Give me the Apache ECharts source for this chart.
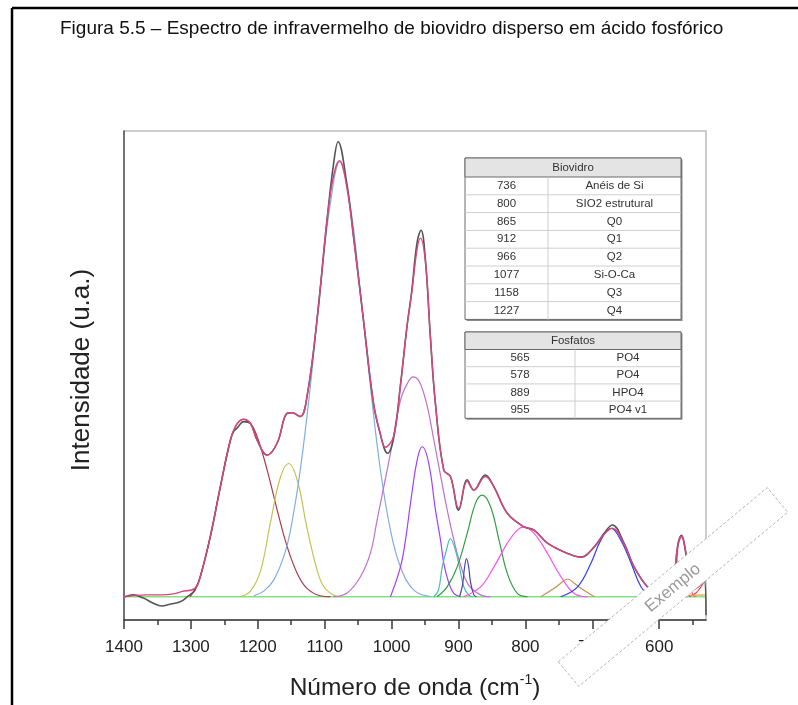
<!DOCTYPE html>
<html><head><meta charset="utf-8">
<script src="https://cdn.jsdelivr.net/npm/echarts@6/dist/echarts.min.js"></script>
<style>html,body{margin:0;padding:0;background:#fff;}#c{width:798px;height:705px;}</style>
</head><body><div id="c"></div>
<script>
const FONT = 'Liberation Sans, Arial, sans-serif';
const titleText = 'Figura 5.5 – Espectro de infravermelho de biovidro disperso em ácido fosfórico';
const yAxisTitle = 'Intensidade (u.a.)';
const xMajorTicks = [600, 700, 800, 900, 1000, 1100, 1200, 1300, 1400];
const xMinorTicks = [550, 650, 750, 850, 950, 1050, 1150, 1250, 1350];

// measured spectrum (dark line)
const measured = [[1398.5,0],[1386,0.004],[1371,-0.003],[1356,-0.014],[1344,-0.020],[1331,-0.016],[1316,-0.011],[1306,-0.001],[1294,0.014],[1286,0.043],[1271,0.129],[1256,0.236],[1241,0.336],[1236,0.355],[1231,0.362],[1221,0.376],[1211,0.372],[1201,0.336],[1186,0.304],[1171,0.330],[1156,0.394],[1149,0.395],[1136.5,0.387],[1126.5,0.429],[1111.5,0.594],[1096.5,0.809],[1086.6,0.931],[1080,0.977],[1067,0.888],[1057,0.775],[1042,0.594],[1027,0.415],[1017,0.350],[1006,0.308],[997,0.340],[987,0.451],[977,0.580],[970,0.655],[962,0.760],[956,0.787],[949.5,0.725],[942,0.558],[934.5,0.415],[922,0.272],[912,0.258],[899.6,0.186],[887,0.251],[877,0.229],[860,0.261],[847,0.236],[827,0.179],[802,0.150],[787,0.143],[767,0.115],[737,0.093],[717,0.085],[697,0.107],[682.4,0.136],[670,0.154],[652.5,0.115],[637.5,0.064],[617.4,0.021],[597.5,0.002],[582.5,0.010],[571.6,0.115],[566.5,0.132],[561.6,0.107],[555.6,0.047],[549.6,0.016],[542,0.021],[533,0.036],[530,-0.04]];
// cumulative fit (pink line)
const fit = [[1400,0],[1366,0.004],[1346,0.004],[1326,0.006],[1314,0.011],[1294,0.018],[1286,0.043],[1271,0.129],[1256,0.236],[1241,0.336],[1231,0.371],[1221,0.381],[1211,0.372],[1201,0.336],[1186,0.304],[1171,0.330],[1156,0.394],[1149,0.395],[1136.5,0.387],[1126.5,0.429],[1111.5,0.594],[1096.5,0.809],[1086.6,0.905],[1078,0.936],[1067,0.880],[1057,0.773],[1042,0.594],[1027,0.415],[1017,0.351],[1009.5,0.321],[997,0.344],[987,0.451],[977,0.580],[970,0.651],[962,0.745],[957,0.770],[949.5,0.720],[942,0.558],[934.5,0.415],[922,0.272],[912,0.258],[899.6,0.190],[887,0.248],[877,0.229],[860,0.258],[847,0.236],[827,0.179],[802,0.150],[787,0.143],[767,0.115],[737,0.093],[717,0.085],[697,0.107],[682.4,0.134],[670,0.147],[652.5,0.113],[637.5,0.064],[617.4,0.021],[597.5,0.002],[582.5,0.010],[571.6,0.115],[566.5,0.130],[561.6,0.107],[555.6,0.047],[549.6,0.016],[542,0.021],[530,0.040]];
const baseline = [[1400,0],[530,0]];

// fitted components
const peakQ4 = [[1301,0],[1294,0.016],[1286,0.043],[1271,0.129],[1256,0.236],[1241,0.336],[1231,0.371],[1221,0.381],[1211,0.372],[1201,0.344],[1186,0.272],[1171,0.186],[1156,0.107],[1141,0.050],[1126.5,0.018],[1106.5,0.002],[1091.6,0]];
const peakQ3 = [[1226,0],[1211,0.012],[1196,0.055],[1181,0.160],[1166.5,0.255],[1154,0.286],[1141,0.250],[1126.5,0.148],[1111.5,0.058],[1101.5,0.022],[1086.5,0.003],[1076,0]];
const peakSiOCa = [[1206,0.002],[1191,0.012],[1176.5,0.035],[1161.5,0.085],[1151.5,0.140],[1136.5,0.272],[1121.5,0.451],[1106.5,0.666],[1091.5,0.845],[1077.6,0.934],[1061.5,0.837],[1046.5,0.651],[1031.6,0.451],[1016.7,0.272],[1001.7,0.143],[986.7,0.064],[966.7,0.014],[941.8,0]];
const peakQ2 = [[1086.6,0],[1066.7,0.008],[1046.5,0.043],[1031.6,0.094],[1021.6,0.165],[1011.7,0.236],[1001.7,0.308],[986.7,0.422],[976.7,0.457],[967.7,0.472],[959.8,0.465],[951.9,0.437],[944.8,0.397],[936.8,0.336],[926.9,0.261],[916.8,0.186],[906.9,0.122],[896.9,0.068],[884.9,0.025],[867,0.004],[852,0]];
const peakPO4v1 = [[1001.7,0],[986.7,0.064],[979.2,0.122],[971.7,0.201],[961.7,0.294],[954.2,0.322],[944.4,0.286],[934.4,0.186],[926.9,0.122],[922,0.072],[915,0.032],[907,0.007],[897,0]];
const peakQ1 = [[937,0],[930,0.014],[924.3,0.064],[918,0.100],[912,0.125],[907,0.111],[902,0.086],[897,0.053],[892,0.021],[885,0.004],[879,0]];
const peakHPO4 = [[898.4,0],[894,0.025],[891,0.062],[888,0.082],[885,0.066],[882,0.032],[877,0.004],[873,0]];
const peakQ0 = [[932,0],[917,0.021],[902,0.064],[887,0.136],[874.5,0.201],[864.5,0.218],[852,0.193],[839.5,0.122],[827,0.050],[812,0.007],[797,0]];
const peakSiO2 = [[892.5,0],[867,0.021],[847,0.064],[827,0.115],[812,0.143],[802,0.150],[787,0.136],[767,0.093],[747,0.043],[727,0.007],[707,0]];
const peakAneis = [[777,0],[757,0.018],[747,0.029],[737,0.038],[727,0.029],[717,0.018],[697,0]];
const peak675 = [[747,0],[722,0.021],[702,0.072],[687,0.122],[672,0.147],[657.5,0.122],[642,0.072],[627,0.021],[612,0]];
const peakPO4narrow = [[582.5,0],[575,0.040],[571.6,0.110],[566.5,0.128],[561.6,0.104],[555.6,0.040],[549.6,0.004],[545,0]];
const peakRed = [[555.6,0],[545,0.008],[537.6,0.021],[530,0.040]];
const peakOrange = [[560,0.003],[530,0.004]];

// tables
const biovidroTitle = 'Biovidro';
const biovidroNumbers = ['736','800','865','912','966','1077','1158','1227'];
const biovidroLabels = ['Anéis de Si','SIO2 estrutural','Q0','Q1','Q2','Si-O-Ca','Q3','Q4'];
const fosfatosTitle = 'Fosfatos';
const fosfatosNumbers = ['565','578','889','955'];
const fosfatosLabels = ['PO4','PO4','HPO4','PO4 v1'];
const watermarkText = 'Exemplo';

function line(name, data, color, width, z) {
  return {name, type:'line', data, smooth:0.4, symbol:'none', silent:true,
    lineStyle:{color, width}, z: z || 2};
}

function buildTable(left, top, width, headerH, rowH, divX, title, nums, labels) {
  const els = [];
  const h = headerH + rowH * nums.length;
  const txt = (x, y, t) => ({type:'text', x, y, z:55,
    style:{text:t, x:0, y:0, align:'center', verticalAlign:'middle', font:'11.5px ' + FONT, fill:'#333'}});
  els.push({type:'rect', z:50, shape:{x:left+1.5, y:top+1.5, width, height:h}, style:{fill:'#8a8a8a'}});
  els.push({type:'rect', z:51, shape:{x:left, y:top, width, height:h}, style:{fill:'#fff', stroke:'#6a6a6a', lineWidth:1}});
  els.push({type:'rect', z:52, shape:{x:left, y:top, width, height:headerH}, style:{fill:'#e4e4e4', stroke:'#6a6a6a', lineWidth:1}});
  els.push(txt(left + width/2, top + headerH/2, title));
  const c1 = (left + divX) / 2, c2 = (divX + left + width) / 2;
  els.push({type:'line', z:53, shape:{x1:divX, y1:top+headerH, x2:divX, y2:top+h}, style:{stroke:'#cfcfcf', lineWidth:1}});
  for (let i = 0; i < nums.length; i++) {
    const y0 = top + headerH + rowH * i;
    if (i > 0) els.push({type:'line', z:53, shape:{x1:left, y1:y0, x2:left+width, y2:y0}, style:{stroke:'#cfcfcf', lineWidth:1}});
    els.push(txt(c1, y0 + rowH/2, nums[i]));
    els.push(txt(c2, y0 + rowH/2, labels[i]));
  }
  return els;
}

const graphics = [
  {type:'line', z:60, shape:{x1:12, y1:8, x2:798, y2:8}, style:{stroke:'#000', lineWidth:2.5}},
  {type:'line', z:60, shape:{x1:12, y1:8, x2:12, y2:705}, style:{stroke:'#000', lineWidth:2.5}},
  {type:'text', x:60, y:29, z:60, style:{text:titleText, align:'left', verticalAlign:'middle', font:'19px ' + FONT, fill:'#111'}},
  {type:'text', x:82, y:370, rotation:Math.PI/2, z:60, style:{text:yAxisTitle, align:'center', verticalAlign:'middle', font:'26px ' + FONT, fill:'#222'}},
  {type:'text', x:415, y:688, z:60, style:{text:'{a|Número de onda (cm}{s|-1}{a|)}', align:'center', verticalAlign:'middle', fill:'#222',
     rich:{a:{fontSize:24.5, fontFamily:FONT, fill:'#222'}, s:{fontSize:14, fontFamily:FONT, fill:'#222', padding:[0,0,15,0]}}}},
  ...buildTable(465, 158, 216, 19, 17.8, 548, biovidroTitle, biovidroNumbers, biovidroLabels),
  ...buildTable(465, 332, 216, 17.5, 17.2, 575, fosfatosTitle, fosfatosNumbers, fosfatosLabels),
  {type:'rect', x:673, y:587, rotation:39.8*Math.PI/180, z:100,
    shape:{x:-136, y:-16, width:272, height:32}, style:{fill:'#fff', stroke:'#a8a8a8', lineWidth:0.8, lineDash:[3,2]}},
  {type:'text', x:673, y:588, rotation:39.8*Math.PI/180, z:101,
    style:{text:watermarkText, align:'center', verticalAlign:'middle', font:'17px ' + FONT, fill:'#9a9a9a'}}
];

const chart = echarts.init(document.getElementById('c'), null, {renderer:'canvas'});
chart.setOption({
  animation:false,
  backgroundColor:'#fff',
  grid:{left:124, right:92, top:131, bottom:85, show:true, borderColor:'#bdbdbd', borderWidth:1.5},
  xAxis:[
    {type:'value', min:530, max:1400, inverse:true, position:'bottom',
      axisLine:{show:true, onZero:false, lineStyle:{color:'#3a3a3a', width:1.5}},
      axisTick:{show:true, inside:false, length:9, customValues:xMajorTicks, lineStyle:{color:'#3a3a3a', width:1.5}},
      axisLabel:{show:true, customValues:xMajorTicks, formatter:v => String(v), margin:19, fontSize:17, fontFamily:FONT, color:'#222'},
      splitLine:{show:false}},
    {type:'value', min:530, max:1400, inverse:true, position:'bottom',
      axisLine:{show:false, onZero:false},
      axisTick:{show:true, inside:false, length:5, customValues:xMinorTicks, lineStyle:{color:'#3a3a3a', width:1.5}},
      axisLabel:{show:false}, splitLine:{show:false}}
  ],
  yAxis:{type:'value', min:-0.05, max:1.0, axisLine:{show:true, onZero:false, lineStyle:{color:'#555', width:1.5}},
    axisTick:{show:false}, axisLabel:{show:false}, splitLine:{show:false}},
  series:[
    line('baseline', baseline, '#86e086', 1.6),
    line('Q4 1227', peakQ4, '#b03a4a', 1.2),
    line('Q3 1158', peakQ3, '#c8c050', 1.2),
    line('Si-O-Ca 1077', peakSiOCa, '#80aee0', 1.2),
    line('Q2 966', peakQ2, '#c070d0', 1.2),
    line('PO4 v1 955', peakPO4v1, '#a040ff', 1.2),
    line('Q1 912', peakQ1, '#40c0b0', 1.2),
    line('HPO4 889', peakHPO4, '#4848a8', 1.2),
    line('Q0 865', peakQ0, '#30a040', 1.2),
    line('SiO2 800', peakSiO2, '#ff50f0', 1.2),
    line('Anéis 736', peakAneis, '#c09050', 1.2),
    line('675', peak675, '#3040ff', 1.2),
    line('PO4 565', peakPO4narrow, '#e060b0', 1.2),
    line('red', peakRed, '#ff4040', 1.2),
    line('orange', peakOrange, '#f0a040', 1.2),
    line('medido', measured, '#555555', 1.6, 3),
    line('ajuste', fit, '#d8457f', 1.4, 4)
  ],
  graphic:graphics
});
</script></body></html>
